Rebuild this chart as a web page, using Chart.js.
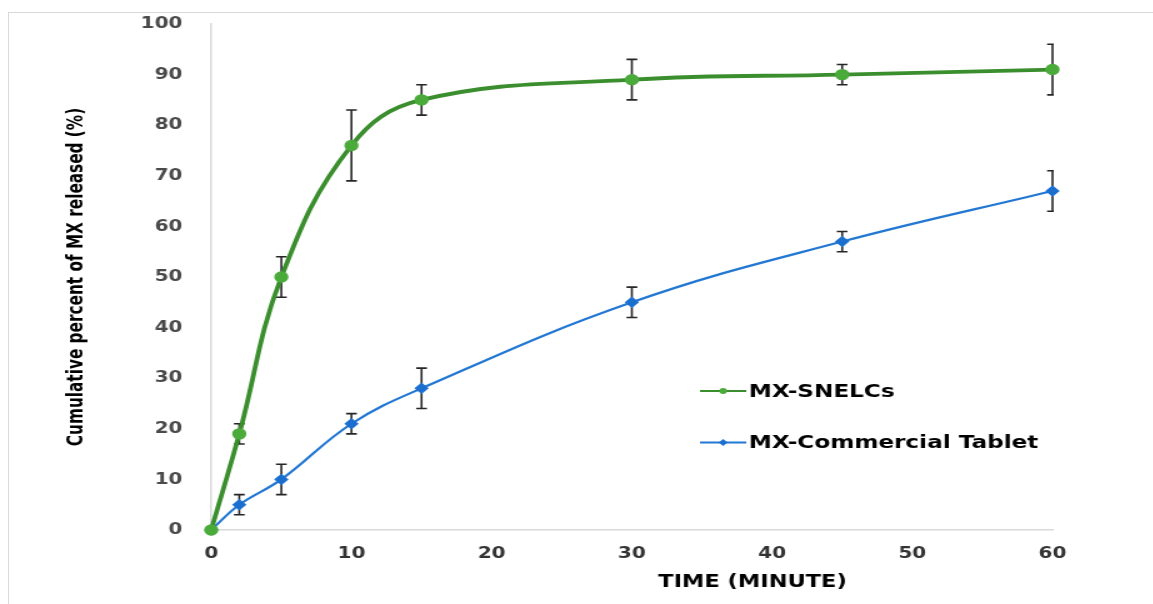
<!DOCTYPE html>
<html>
<head>
<meta charset="utf-8">
<script src="https://cdn.jsdelivr.net/npm/chart.js@4"></script>
<style>
  html, body { margin: 0; padding: 0; background: #fff; overflow: hidden; }
  .frame {
    position: absolute; left: 8px; top: 12px; width: 1200px; height: 700px;
    border-left: 1px solid #d9d9d9; border-top: 1px solid #d9d9d9;
  }
  /* the source picture is stretched sideways, so the chart is drawn narrower and scaled */
  .wrap {
    position: absolute; left: 0; top: 0; width: 922px; height: 604px;
    transform: scaleX(1.25); transform-origin: 0 0;
  }
  canvas { display: block; }
</style>
</head>
<body>
<div class="frame"></div>
<div class="wrap"><canvas id="release" width="922" height="604"></canvas></div>
<script>
const times = [0, 2, 5, 10, 15, 30, 45, 60];
const snelcs = [0, 19, 50, 76, 85, 89, 90, 91];
const snelcsErr = [0, 2, 4, 7, 3, 4, 2, 5];
const tablet = [0, 5, 10, 21, 28, 45, 57, 67];
const tabletErr = [0, 2, 3, 2, 4, 3, 2, 4];
const seriesNames = ['MX-SNELCs', 'MX-Commercial Tablet'];
const xTicks = [0, 10, 20, 30, 40, 50, 60];
const yTicks = [0, 10, 20, 30, 40, 50, 60, 70, 80, 90, 100];
const xTitle = 'TIME (MINUTE)';
const yTitle = 'Cumulative percent of MX released (%)';

const tickFont = { family: 'DejaVu Sans', size: 16, weight: 'bold' };

const errorBars = {
  id: 'errorBars',
  beforeDatasetsDraw(chart, args, options) {
    const { ctx, chartArea } = chart;
    ctx.save();
    ctx.beginPath();
    ctx.rect(chartArea.left - 10, chartArea.top - 30, chartArea.width + 11, chartArea.height + 40);
    ctx.clip();
    ctx.strokeStyle = options.color;
    ctx.lineWidth = options.width;
    chart.data.datasets.forEach((ds) => {
      ds.errors.forEach((err, j) => {
        if (!err) return;
        const x = chart.scales.x.getPixelForValue(ds.data[j].x);
        const yTop = chart.scales.y.getPixelForValue(ds.data[j].y + err);
        const yBot = chart.scales.y.getPixelForValue(ds.data[j].y - err);
        const c = options.cap;
        ctx.beginPath();
        ctx.moveTo(x, yTop);
        ctx.lineTo(x, yBot);
        ctx.moveTo(x - c, yTop);
        ctx.lineTo(x + c, yTop);
        ctx.moveTo(x - c, yBot);
        ctx.lineTo(x + c, yBot);
        ctx.stroke();
      });
    });
    ctx.restore();
  },
};

const innerLegend = {
  id: 'innerLegend',
  afterDraw(chart, args, options) {
    const { ctx } = chart;
    ctx.save();
    chart.data.datasets.forEach((ds, i) => {
      const y = options.y + i * options.gap;
      const cx = options.x + options.lineLen / 2;
      ctx.strokeStyle = ds.borderColor;
      ctx.lineWidth = 2;
      ctx.beginPath();
      ctx.moveTo(options.x, y);
      ctx.lineTo(options.x + options.lineLen, y);
      ctx.stroke();
      ctx.fillStyle = ds.pointBackgroundColor;
      ctx.beginPath();
      if (ds.pointStyle === 'rectRot') {
        ctx.moveTo(cx, y - 3.5);
        ctx.lineTo(cx + 3.5, y);
        ctx.lineTo(cx, y + 3.5);
        ctx.lineTo(cx - 3.5, y);
        ctx.closePath();
      } else {
        ctx.arc(cx, y, 3, 0, Math.PI * 2);
      }
      ctx.fill();
      ctx.fillStyle = '#000';
      ctx.font = 'bold 18.5px "DejaVu Sans"';
      ctx.textBaseline = 'middle';
      ctx.fillText(ds.label, options.x + options.lineLen + 2, y + 1);
    });
    ctx.restore();
  },
};

// x title sits off-centre in the source, so it is drawn here
const xCaption = {
  id: 'xCaption',
  afterDraw(chart, args, options) {
    const { ctx } = chart;
    ctx.save();
    ctx.fillStyle = '#000';
    ctx.font = 'bold 18px "DejaVu Sans"';
    ctx.textAlign = 'center';
    ctx.textBaseline = 'middle';
    ctx.fillText(options.text, options.x, options.y);
    ctx.restore();
  },
};

// eslint-disable-next-line no-unused-vars
const releaseChart = new Chart(document.getElementById('release'), {
  type: 'line',
  data: {
    datasets: [
      {
        label: seriesNames[0],
        data: times.map((t, i) => ({ x: t, y: snelcs[i] })),
        errors: snelcsErr,
        borderColor: '#3b8e2d',
        backgroundColor: '#4aab3b',
        pointBackgroundColor: '#4aab3b',
        pointBorderColor: '#4aab3b',
        borderWidth: 3.8,
        pointRadius: 3.8,
        pointStyle: 'circle',
        tension: 0.4,
        clip: false,
      },
      {
        label: seriesNames[1],
        data: times.map((t, i) => ({ x: t, y: tablet[i] })),
        errors: tabletErr,
        borderColor: '#2277d2',
        backgroundColor: '#1b6fcf',
        pointBackgroundColor: '#1b6fcf',
        pointBorderColor: '#1b6fcf',
        borderWidth: 2.2,
        pointRadius: 4.2,
        pointStyle: 'rectRot',
        tension: 0.4,
        clip: false,
      },
    ],
  },
  options: {
    responsive: false,
    animation: false,
    events: [],
    layout: {
      padding: { top: 24, right: 80, left: 0, bottom: 0 },
    },
    plugins: {
      legend: { display: false },
      tooltip: { enabled: false },
      errorBars: { color: '#262626', width: 1.6, cap: 4.3 },
      innerLegend: { x: 560, y: 391, gap: 51.5, lineLen: 37 },
      xCaption: { text: xTitle, x: 602, y: 582 },
    },
    scales: {
      x: {
        type: 'linear',
        min: 0,
        max: 60,
        afterFit(scale) {
          scale.height = 74;
        },
        afterBuildTicks(scale) {
          scale.ticks = xTicks.map((v) => ({ value: v }));
        },
        grid: { display: false, drawTicks: false },
        border: { display: true, color: '#d9d9d9', width: 1.5 },
        ticks: {
          color: '#333',
          font: tickFont,
          padding: 14,
          maxRotation: 0,
        },
      },
      y: {
        min: 0,
        max: 100,
        afterFit(scale) {
          scale.width = 169;
          scale.paddingTop = 0;
          scale.paddingBottom = 0;
        },
        afterBuildTicks(scale) {
          scale.ticks = yTicks.map((v) => ({ value: v }));
        },
        grid: { display: false, drawTicks: false },
        border: { display: true, color: '#d9d9d9', width: 1.5 },
        ticks: {
          color: '#4a4a4a',
          font: tickFont,
          padding: 23,
        },
        title: {
          display: true,
          text: yTitle,
          color: '#000',
          font: { family: '"DejaVu Sans Condensed"', size: 17, weight: 'bold' },
          padding: { top: 51, bottom: 0 },
        },
      },
    },
  },
  plugins: [errorBars, innerLegend, xCaption],
});
</script>
</body>
</html>
